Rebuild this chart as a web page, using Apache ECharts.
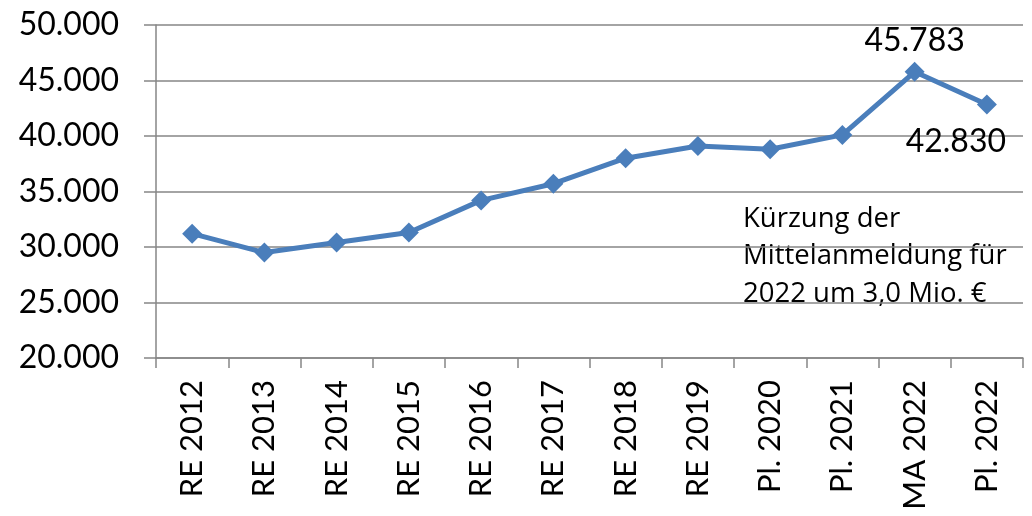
<!DOCTYPE html>
<html>
<head>
<meta charset="utf-8">
<script src="https://cdn.jsdelivr.net/npm/echarts@6/dist/echarts.min.js"></script>
<style>
  html, body { margin: 0; padding: 0; background: #fff; }
  #chart { width: 1032px; height: 516px; }
</style>
</head>
<body>
<div id="chart"></div>
<script>
// Kategorien (x-Achse) und Werte
const categories = ['RE 2012', 'RE 2013', 'RE 2014', 'RE 2015', 'RE 2016', 'RE 2017',
  'RE 2018', 'RE 2019', 'Pl. 2020', 'Pl. 2021', 'MA 2022', 'Pl. 2022'];
const values = [31200, 29500, 30400, 31300, 34200, 35700, 38000, 39100, 38800, 40100, 45783, 42830];
// nur diese Punkte bekommen ein Wertelabel
const labelledIndex = [10, 11];
const noteLines = ['Kürzung der', 'Mittelanmeldung für', '2022 um 3,0 Mio. €'];

const FONT = 'Lato, "Open Sans", sans-serif';
const GRAY = '#868686';
const BLUE = '#4A7EBB';

function fmt(v) {
  return String(Math.round(v)).replace(/\B(?=(\d{3})+(?!\d))/g, '.');
}

const seriesData = values.map((v, i) => {
  if (!labelledIndex.includes(i)) return v;
  // MA 2022 oben, Pl. 2022 unten links
  const top = i === 10;
  return {
    value: v,
    label: {
      show: true,
      position: top ? 'top' : 'bottom',
      offset: top ? [0, 0] : [-31, 6],
      formatter: p => fmt(p.value),
      fontFamily: FONT,
      fontSize: 32,
      color: '#000'
    }
  };
});

const chart = echarts.init(document.getElementById('chart'));
chart.setOption({
  animation: false,
  grid: { left: 156, right: 9, top: 25, bottom: 158 },
  xAxis: {
    type: 'category',
    data: categories,
    boundaryGap: true,
    axisLine: { lineStyle: { color: GRAY, width: 1.5 } },
    axisTick: { show: true, length: 10, lineStyle: { color: GRAY, width: 1.5 } },
    axisLabel: {
      rotate: 90,
      margin: 22,
      interval: 0,
      fontFamily: FONT,
      fontSize: 31,
      color: '#000'
    }
  },
  yAxis: {
    type: 'value',
    min: 20000,
    max: 50000,
    interval: 5000,
    axisLine: { show: true, lineStyle: { color: GRAY, width: 1.5 } },
    axisTick: { show: true, length: 12, lineStyle: { color: GRAY, width: 1.5 } },
    splitLine: { lineStyle: { color: GRAY, width: 1.5 } },
    axisLabel: {
      margin: 37,
      formatter: fmt,
      fontFamily: FONT,
      fontSize: 32,
      color: '#000'
    }
  },
  series: [{
    type: 'line',
    data: seriesData,
    symbol: 'diamond',
    symbolSize: 20,
    itemStyle: { color: BLUE },
    lineStyle: { color: BLUE, width: 5 },
    z: 3
  }],
  graphic: [{
    type: 'text',
    left: 743,
    top: 200,
    style: {
      text: noteLines.join('\n'),
      fontFamily: '"Open Sans", sans-serif',
      fontSize: 27.5,
      lineHeight: 37.5,
      fill: '#000'
    }
  }]
});
</script>
</body>
</html>
